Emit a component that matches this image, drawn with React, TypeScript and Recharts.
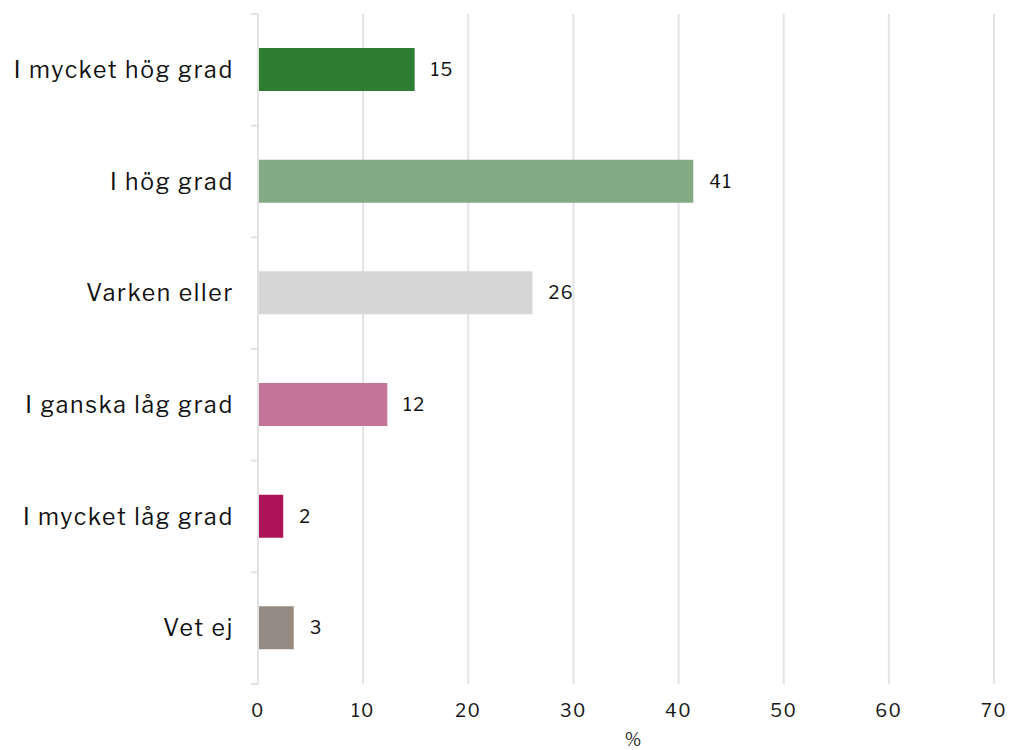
import React from 'react';
import { BarChart, Bar, XAxis, YAxis, CartesianGrid, Cell, LabelList } from 'recharts';

const categories = ['I mycket hög grad', 'I hög grad', 'Varken eller', 'I ganska låg grad', 'I mycket låg grad', 'Vet ej'];
const values = [14.9, 41.4, 26.1, 12.3, 2.4, 3.4];
const colors = ['#2e7d32', '#82aa84', '#d6d6d6', '#c27599', '#ad1457', '#968b82'];
const xTicks = [0, 10, 20, 30, 40, 50, 60, 70];

const data = categories.map((name, i) => ({ name, value: values[i] }));

const FONT = '"Libre Franklin", "Open Sans", "Liberation Sans", sans-serif';
const GRID = '#e3e3e3';
const LABEL_GAP = 24;
const PLOT_H = 670;
const STEP = PLOT_H / categories.length;

// category label plus the small tick marks that sit on the band edges
const CatTick = (props: any) => {
  const { x, y, payload, index } = props;
  const ax = x + LABEL_GAP;
  const last = index === categories.length - 1;
  return (
    <g>
      <line x1={ax - 7} x2={ax} y1={y - STEP / 2} y2={y - STEP / 2} stroke={GRID} strokeWidth={2} />
      {last && <line x1={ax - 7} x2={ax} y1={y + STEP / 2} y2={y + STEP / 2} stroke={GRID} strokeWidth={2} />}
      <text x={x} y={y} dy={8} textAnchor="end" fill="#111" fontSize={23} fontFamily={FONT} letterSpacing={1.75}>
        {payload.value}
      </text>
    </g>
  );
};

export default function App() {
  return (
    <div style={{ position: 'fixed', left: 0, top: 0, width: 1010, height: 750, background: '#fff', fontFamily: FONT }}>
      <BarChart
        width={1010}
        height={750}
        data={data}
        layout="vertical"
        margin={{ top: 14, right: 16, bottom: 4, left: 0 }}
        barSize={43}
      >
        <CartesianGrid horizontal={false} vertical stroke={GRID} strokeWidth={2} />
        <XAxis
          type="number"
          domain={[0, 70]}
          ticks={xTicks}
          axisLine={false}
          tickLine={false}
          tick={{ fill: '#1a1a1a', fontSize: 18, fontFamily: FONT, letterSpacing: 1.5 }}
          tickMargin={14}
          height={62}
          label={{ value: '%', position: 'insideBottom', offset: 0, fill: '#1a1a1a', fontSize: 18, dx: 7 }}
        />
        <YAxis
          type="category"
          dataKey="name"
          width={258}
          axisLine={{ stroke: GRID, strokeWidth: 2 }}
          tickLine={false}
          tickSize={0}
          tick={<CatTick />}
          tickMargin={LABEL_GAP}
        />
        <Bar dataKey="value" isAnimationActive={false}>
          {data.map((_, idx) => (
            <Cell key={idx} fill={colors[idx]} />
          ))}
          <LabelList
            dataKey="value"
            position="right"
            offset={16}
            formatter={(v: any) => Math.round(Number(v))}
            style={{ fill: '#111', fontSize: 18, fontFamily: FONT, letterSpacing: 1.5 }}
          />
        </Bar>
      </BarChart>
    </div>
  );
}
